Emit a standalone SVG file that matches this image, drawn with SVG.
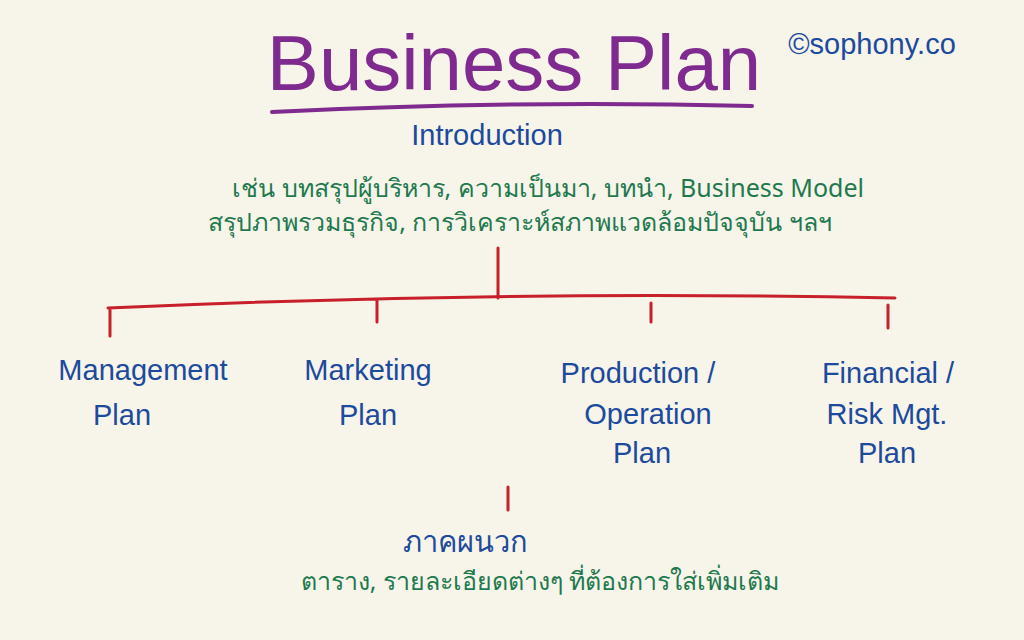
<svg xmlns="http://www.w3.org/2000/svg" width="1024" height="640" viewBox="0 0 1024 640">
<style>
.b{fill:#1c4a9c;font-family:"Liberation Sans","Noto Sans",sans-serif;font-size:29px;text-anchor:middle}
.g{fill:#1e7a4e;font-family:"Noto Sans","Liberation Sans",sans-serif;font-size:25px;text-anchor:middle}
.r{stroke:#c8202a;stroke-width:3;fill:none;stroke-linecap:round}
</style>
<rect width="1024" height="640" fill="#f7f4ea"/>
<g id="title">
<text x="514" y="90" font-family="Liberation Sans,sans-serif" font-size="78" fill="#7e2a8e" text-anchor="middle">Business Plan</text>
<path d="M272 112 Q510 100 752 106" stroke="#7e2a8e" stroke-width="4" fill="none" stroke-linecap="round"/>
</g>
<text x="872" y="54" class="b" font-size="36">©sophony.co</text>
<g id="intro">
<text x="487" y="145" class="b" font-size="36">Introduction</text>
<text x="548" y="197" class="g">เช่น บทสรุปผู้บริหาร, ความเป็นมา, บทนำ, Business Model</text>
<text x="520" y="231" class="g">สรุปภาพรวมธุรกิจ, การวิเคราะห์สภาพแวดล้อมปัจจุบัน ฯลฯ</text>
</g>
<g id="connectors">
<path class="r" d="M498 248 V298 M108 308 Q500 290 895 298 M110 310 V336 M377 300 V322 M651 303 V322 M888 305 V328 M508 487 V510"/>
</g>
<g id="management"><text x="143" y="380" class="b">Management</text><text x="122" y="425" class="b">Plan</text></g>
<g id="marketing"><text x="368" y="380" class="b">Marketing</text><text x="368" y="425" class="b">Plan</text></g>
<g id="production"><text x="638" y="383" class="b">Production /</text><text x="648" y="424" class="b">Operation</text><text x="642" y="463" class="b">Plan</text></g>
<g id="financial"><text x="888" y="383" class="b">Financial /</text><text x="887" y="424" class="b">Risk Mgt.</text><text x="887" y="463" class="b">Plan</text></g>
<g id="appendix">
<text x="465" y="552" class="b" font-size="31">ภาคผนวก</text>
<text x="540" y="590" class="g">ตาราง, รายละเอียดต่างๆ ที่ต้องการใส่เพิ่มเติม</text>
</g>
</svg>
